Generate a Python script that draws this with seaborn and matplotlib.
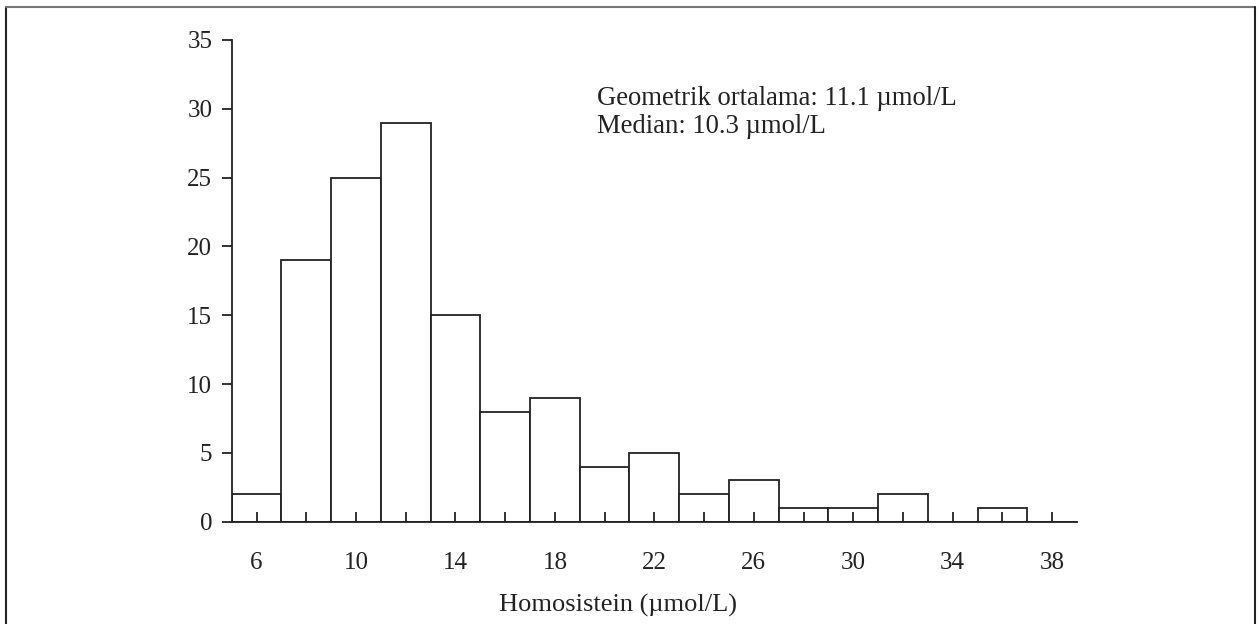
import matplotlib
matplotlib.use("Agg")
import matplotlib.pyplot as plt
import seaborn as sns
import pandas as pd
from matplotlib.lines import Line2D

categories = [6, 8, 10, 12, 14, 16, 18, 20, 22, 24, 26, 28, 30, 32, 34, 36, 38]
counts = [2, 19, 25, 29, 15, 8, 9, 4, 5, 2, 3, 1, 1, 2, 0, 1, 0]
y_ticks = [0, 5, 10, 15, 20, 25, 30, 35]
x_label = "Homosistein (\u00b5mol/L)"
note_lines = ["Geometrik ortalama: 11.1 \u00b5mol/L", "Median: 10.3 \u00b5mol/L"]

sns.set_style("white")
plt.rcParams['font.family'] = ['Liberation Serif', 'DejaVu Serif']

W, H = 1259, 624
fig = plt.figure(figsize=(W / 100, H / 100), dpi=100)
ax = fig.add_axes([231.7 / W, 1 - 521.7 / H, (1077 - 231.7) / W, (521.7 - 40) / H])

df = pd.DataFrame({"cat": [str(c) for c in categories], "n": counts})
sns.barplot(data=df, x="cat", y="n", order=df["cat"].tolist(), color="white",
            edgecolor="#222222", linewidth=1.3, width=1.0, saturation=1, ax=ax)

ax.set_xlim(-0.5, len(categories) - 0.5)
ax.set_ylim(0, 35)
ax.set_yticks(y_ticks)
ax.set_yticklabels([str(v) for v in y_ticks], fontsize=18, color="#222222")
ax.set_xticks(range(len(categories)))
ax.set_xticklabels([str(c) if i % 2 == 0 else "" for i, c in enumerate(categories)],
                   fontsize=18, color="#222222")
ax.tick_params(axis="x", direction="in", length=7, width=1.3, color="#222222", pad=22, bottom=True)
ax.tick_params(axis="y", direction="out", length=7, width=1.3, color="#222222", pad=7, left=True)
ax.set_axisbelow(False)
ax.set_xlabel("")
ax.set_ylabel("")
for s in ["top", "right"]:
    ax.spines[s].set_visible(False)
for s in ["left", "bottom"]:
    ax.spines[s].set_color("#222222")
    ax.spines[s].set_linewidth(1.3)

fig.text(597 / W, 1 - 105 / H, note_lines[0], fontsize=19.2,
         va="baseline", ha="left", color="#222222")
fig.text(597 / W, 1 - 133 / H, note_lines[1], fontsize=19.2,
         va="baseline", ha="left", color="#222222")
fig.text(618 / W, 1 - 612 / H, x_label, fontsize=19, ha="center", va="baseline", color="#222222")

# outer frame
fig.add_artist(Line2D([6 / W, 6 / W], [0, 1 - 7 / H], transform=fig.transFigure, color="#222222", lw=1.5))
fig.add_artist(Line2D([6 / W, 1255 / W], [1 - 7 / H, 1 - 7 / H], transform=fig.transFigure, color="#777777", lw=1.5))
fig.add_artist(Line2D([1255 / W, 1255 / W], [0, 1 - 7 / H], transform=fig.transFigure, color="#222222", lw=1.5))

fig.savefig("out.png", dpi=100, facecolor="white")
